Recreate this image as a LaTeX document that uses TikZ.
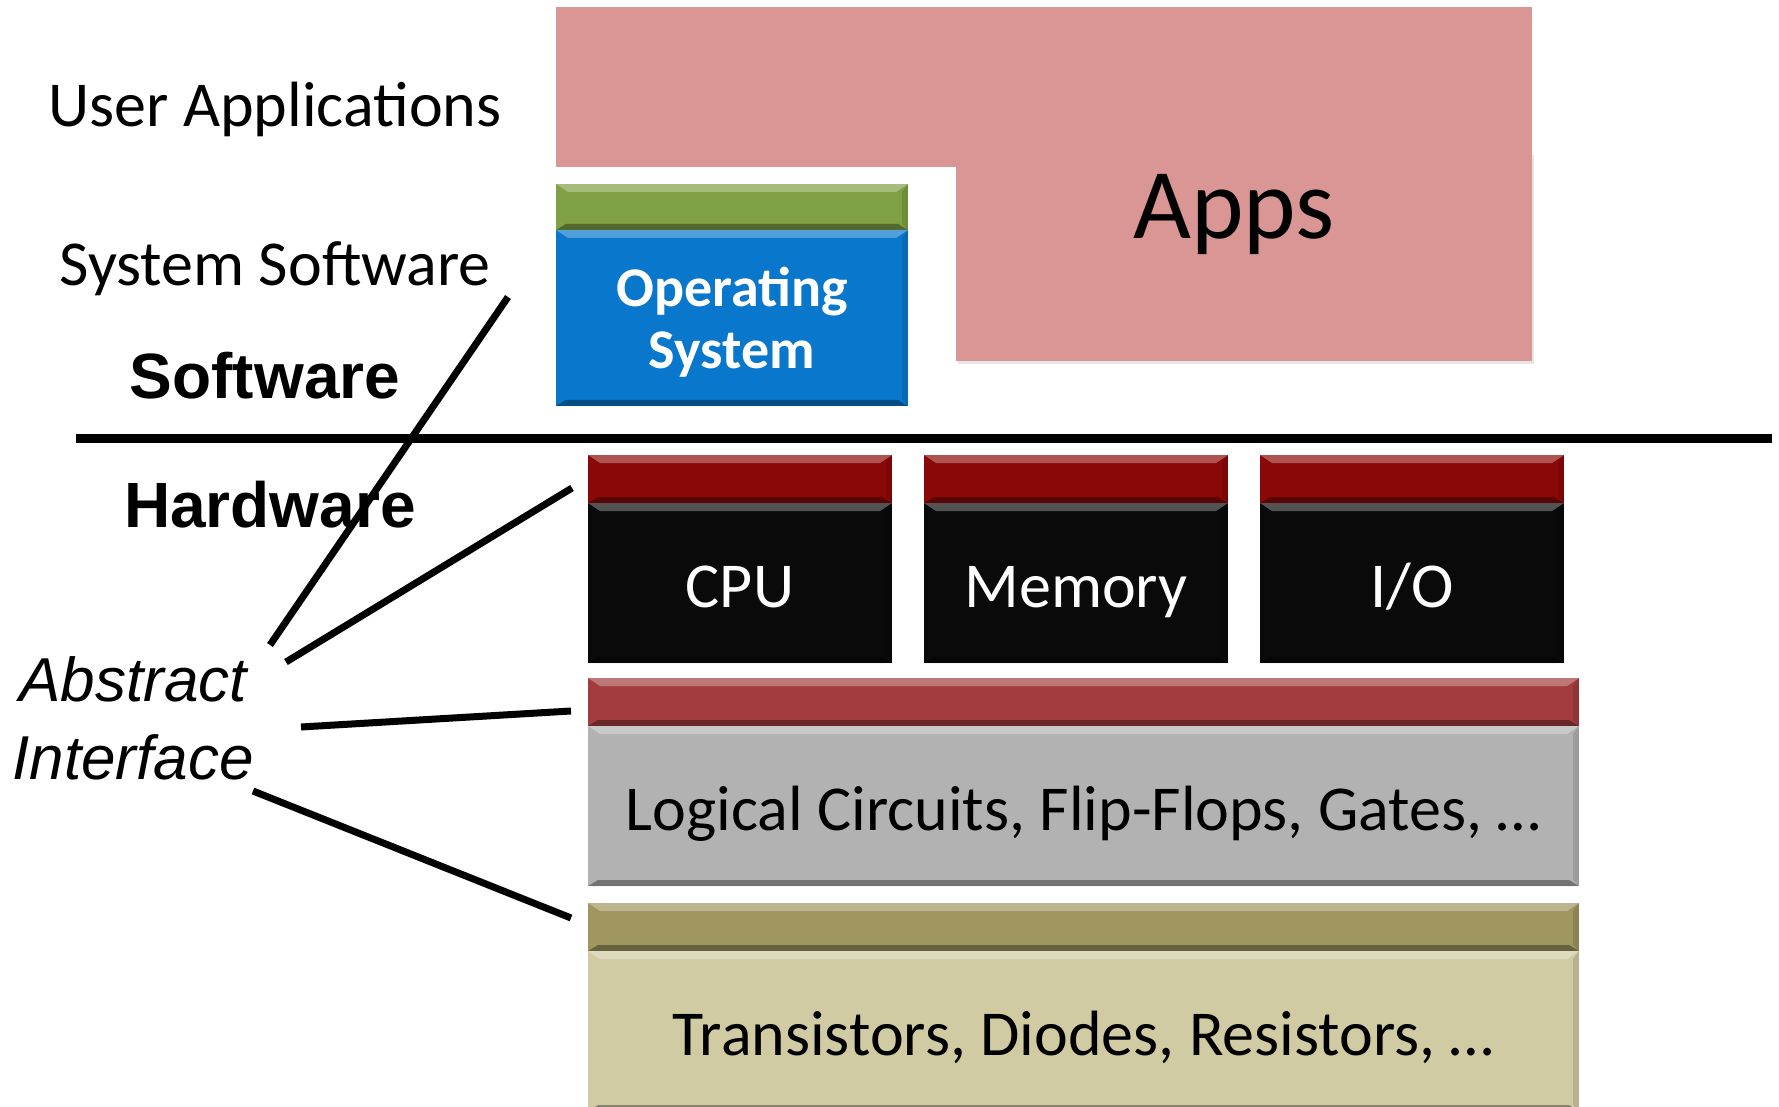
\documentclass[tikz,border=0pt]{standalone}
\usepackage{fontspec}
\setmainfont{Carlito}
\newfontfamily\arialfont{Liberation Sans}
\usepackage{tikz}
\usetikzlibrary{positioning,shadows,calc}

\definecolor{appspink}{RGB}{217,150,148}
\definecolor{osgreen}{RGB}{127,160,68}
\definecolor{osblue}{RGB}{8,119,204}
\definecolor{chipred}{RGB}{139,8,8}
\definecolor{chipblack}{RGB}{10,10,10}
\definecolor{logicred}{RGB}{163,61,61}
\definecolor{logicgray}{RGB}{178,178,178}
\definecolor{deviceolive}{RGB}{160,150,96}
\definecolor{devicekhaki}{RGB}{208,203,163}

\tikzset{bevel/.style={path picture={
  \fill[white, opacity=.3]
    (path picture bounding box.north west) -- (path picture bounding box.north east)
    -- ([shift={(-6pt,-4pt)}]path picture bounding box.north east)
    -- ([shift={(6pt,-4pt)}]path picture bounding box.north west) -- cycle;
  \fill[black, opacity=.35]
    (path picture bounding box.south west) -- (path picture bounding box.south east)
    -- ([shift={(-5pt,3pt)}]path picture bounding box.south east)
    -- ([shift={(5pt,3pt)}]path picture bounding box.south west) -- cycle;
  \fill[black, opacity=.12]
    (path picture bounding box.north east) -- (path picture bounding box.south east)
    -- ([shift={(-3pt,3pt)}]path picture bounding box.south east)
    -- ([shift={(-3pt,-4pt)}]path picture bounding box.north east) -- cycle;
}}}

\begin{document}
\begin{tikzpicture}[x=0.5pt, y=-0.5pt, node distance=16pt]
\tikzstyle{layertop}=[rectangle,
                      inner sep=0pt, outer sep=0pt,
                      minimum height=24pt,
                      bevel]
\tikzstyle{layer}=[rectangle,
                   inner sep=0pt, outer sep=0pt,
                   minimum height=80pt,
                   text height=24pt, text depth=0pt,
                   font=\fontsize{32}{38}\selectfont,
                   bevel]
\tikzstyle{sidelabel}=[anchor=base,
                       font=\fontsize{32}{38}\selectfont]
\tikzstyle{bigside}=[anchor=base,
                     font=\arialfont\bfseries\fontsize{32}{38}\selectfont]
\tikzstyle{pointer}=[line width=3.5pt]

\clip (0,0) rectangle (1779,1107);

% software side
\node[rectangle, fill=appspink, inner sep=0pt, minimum width=488pt, minimum height=80pt]
  (userapps) at (1044,87) {};
\node[rectangle, fill=appspink, inner sep=0pt, minimum width=288pt, minimum height=104.5pt,
  drop shadow={opacity=.2, shadow xshift=1pt, shadow yshift=-1.5pt}]
  (appsbox) at (1244,256.5) {};
\node[anchor=base, font=\fontsize{50}{60}\selectfont] (apps) at (1234,239) {Apps};

\node[layertop, fill=osgreen, minimum width=176pt, minimum height=23pt] (oscap) at (732,207) {};
\node[layer, fill=osblue, minimum width=176pt, minimum height=88pt, below=0pt of oscap,
  text height=, text depth=, text=white, align=center,
  font=\bfseries\fontsize{28}{31}\selectfont] (os)
  {\rule{0pt}{24pt}Operating\\System};

% hardware side
\node[layertop, fill=chipred, minimum width=152pt] (cputop) at (740,479) {};
\node[layer, fill=chipblack, minimum width=152pt, text=white, below=0pt of cputop] (cpu) {CPU};
\node[layertop, fill=chipred, minimum width=152pt, right=of cputop] (memtop) {};
\node[layer, fill=chipblack, minimum width=152pt, text=white, below=0pt of memtop] (memory) {Memory};
\node[layertop, fill=chipred, minimum width=152pt, right=of memtop] (iotop) {};
\node[layer, fill=chipblack, minimum width=152pt, text=white, below=0pt of iotop] (io) {I/O};

\node[layertop, fill=logicred, minimum width=495.5pt] (logictop) at (1083.5,702) {};
\node[layer, fill=logicgray, minimum width=495.5pt, below=0pt of logictop] (logic)
  {Logical Circuits, Flip-Flops, Gates, \dots};
\node[layertop, fill=deviceolive, minimum width=495.5pt, below=8.5pt of logic] (devicetop) {};
\node[layer, fill=devicekhaki, minimum width=495.5pt, below=0pt of devicetop] (devices)
  {Transistors, Diodes, Resistors, \dots};

% labels on the left
\node[sidelabel] (userlabel) at (275,127) {User Applications};
\node[sidelabel] (syslabel) at (275,286) {System Software};
\node[bigside] (swlabel) at (265,399) {Software};
\node[bigside] (hwlabel) at (270,527) {Hardware};
\node[align=center, font=\arialfont\itshape\fontsize{31}{39}\selectfont] (abstract) at (133,718)
  {Abstract\\Interface};

\coordinate (swleft) at (76,438);
\coordinate (swright) at (1772,438);
\draw[line width=4.5pt] (swleft) -- (swright);

% abstract interface pointers
\coordinate (from1) at (270,645);
\coordinate (to1) at (508,297);
\coordinate (from2) at (286,662);
\coordinate (to2) at (572,488);
\coordinate (from3) at (301,727);
\coordinate (to3) at (571,711);
\coordinate (from4) at (253,791);
\coordinate (to4) at (571,918);
\draw[pointer] (from1) -- (to1);
\draw[pointer] (from2) -- (to2);
\draw[pointer] (from3) -- (to3);
\draw[pointer] (from4) -- (to4);
\end{tikzpicture}
\end{document}
